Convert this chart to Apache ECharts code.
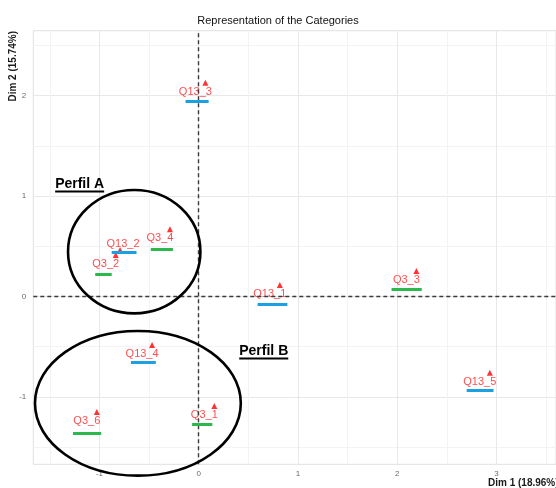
<!DOCTYPE html>
<html lang="en">
<head>
    <meta charset="UTF-8">
    <title>Representation of the Categories</title>
    <style>
        html, body { margin: 0; padding: 0; background: #fff; }
        #container { width: 556px; height: 488px; }
    </style>
</head>
<body>
    <div id="container"></div>
    <script src="https://cdn.jsdelivr.net/npm/echarts@6/dist/echarts.min.js"></script>
    <script>
        // categories and their coordinates on the two dimensions
        var categories = ['Q13_3', 'Q13_2', 'Q3_2', 'Q3_4', 'Q13_1', 'Q3_3', 'Q13_5', 'Q13_4', 'Q3_6', 'Q3_1'];
        var dim1 = [0.067, -0.793, -0.837, -0.29, 0.817, 2.193, 2.933, -0.47, -1.027, 0.157];
        var dim2 = [2.127, 0.463, 0.413, 0.669, 0.114, 0.254, -0.758, -0.483, -1.149, -1.09];

        // hand drawn underlines under each label: start, end, height, group
        var lineStart = [-0.133, -0.877, -1.043, -0.483, 0.593, 1.943, 2.70, -0.683, -1.267, -0.067];
        var lineEnd   = [0.10, -0.627, -0.877, -0.26, 0.893, 2.247, 2.97, -0.433, -0.983, 0.137];
        var lineY     = [1.938, 0.436, 0.217, 0.466, -0.082, 0.072, -0.933, -0.652, -1.361, -1.272];
        var lineGroup = ['Q13', 'Q13', 'Q3', 'Q3', 'Q13', 'Q3', 'Q13', 'Q13', 'Q3', 'Q3'];

        // profile ellipses (center x, center y, radius x, radius y)
        var profiles = ['Perfil A', 'Perfil B'];
        var ellipseCx = [-0.65, -0.613];
        var ellipseCy = [0.446, -1.063];
        var ellipseRx = [0.667, 1.037];
        var ellipseRy = [0.614, 0.72];
        var profileLabelX = [-1.2, 0.655];
        var profileLabelY = [1.12, -0.542];

        var xTicks = [-1, 0, 1, 2, 3];
        var yTicks = [-1, 0, 1, 2];
        var xMinor = [-1.5, -0.5, 0.5, 1.5, 2.5, 3.5];
        var yMinor = [-1.5, -0.5, 0.5, 1.5, 2.5];

        var groupColor = { Q13: '#1ba1e2', Q3: '#2db84d' };

        var ec = echarts.init(document.getElementById('container'));

        var points = categories.map(function (c, i) {
            var item = { name: c, value: [dim1[i], dim2[i]] };
            if (c === 'Q13_2') {
                item.label = { offset: [3, -6] };
            }
            return item;
        });

        var underlines = categories.map(function (c, i) {
            return [
                { coord: [lineStart[i], lineY[i]], lineStyle: { color: groupColor[lineGroup[i]] } },
                { coord: [lineEnd[i], lineY[i]] }
            ];
        });

        var gridGray = '#e8e8e8';
        var minorGray = '#f3f3f3';

        function majorAxis(ticks, extra) {
            return Object.assign({
                type: 'value',
                axisLine: { show: false },
                axisTick: { show: false, customValues: ticks },
                splitLine: { show: true, lineStyle: { color: gridGray, width: 1 } }
            }, extra);
        }

        function minorAxis(ticks, extra) {
            return Object.assign({
                type: 'value',
                axisLine: { show: false },
                axisTick: { show: false, customValues: ticks },
                axisLabel: { show: false, customValues: ticks },
                splitLine: { show: true, lineStyle: { color: minorGray, width: 1 } }
            }, extra);
        }

        var xMin = -1.667, xMax = 3.6, yMin = -1.67, yMax = 2.645;

        var option = {
            backgroundColor: '#fff',
            animation: false,
            title: {
                text: 'Representation of the Categories',
                left: 'center',
                top: 10,
                textStyle: { fontSize: 11, fontWeight: 'normal', color: '#111', fontFamily: 'Liberation Sans' }
            },
            grid: {
                left: 33.3,
                right: -4,
                top: 30.7,
                bottom: 23.7,
                show: true,
                borderColor: '#e0e0e0',
                borderWidth: 1
            },
            xAxis: [
                minorAxis(xMinor, { min: xMin, max: xMax, position: 'top' }),
                majorAxis(xTicks, { min: xMin, max: xMax, position: 'bottom', axisLabel: { customValues: xTicks, color: '#6b6b6b', fontSize: 8, margin: 5, fontFamily: 'Liberation Sans' } })
            ],
            yAxis: [
                minorAxis(yMinor, { min: yMin, max: yMax, position: 'right' }),
                majorAxis(yTicks, { min: yMin, max: yMax, position: 'left', axisLabel: { customValues: yTicks, color: '#6b6b6b', fontSize: 8, margin: 7, fontFamily: 'Liberation Sans' } })
            ],
            series: [
                {
                    type: 'scatter',
                    xAxisIndex: 1,
                    yAxisIndex: 1,
                    data: [],
                    silent: true,
                    markLine: {
                        silent: true,
                        symbol: 'none',
                        label: { show: false },
                        lineStyle: { color: '#3a3a3a', type: [4, 3], width: 1.4 },
                        data: [{ xAxis: 0 }, { yAxis: 0 }]
                    }
                },
                {
                    type: 'scatter',
                    xAxisIndex: 1,
                    yAxisIndex: 1,
                    data: [],
                    silent: true,
                    z: 3,
                    markLine: {
                        silent: true,
                        symbol: 'none',
                        label: { show: false },
                        lineStyle: { width: 3, type: 'solid', opacity: 1 },
                        data: underlines
                    }
                },
                {
                    type: 'scatter',
                    xAxisIndex: 1,
                    yAxisIndex: 1,
                    symbol: 'triangle',
                    symbolSize: 6,
                    z: 4,
                    itemStyle: { color: '#ff0000' },
                    label: {
                        show: true,
                        position: 'inside',
                        offset: [-10, 9],
                        formatter: '{b}',
                        color: '#ff2020',
                        fontSize: 11,
                        fontFamily: 'Liberation Sans'
                    },
                    data: points
                }
            ]
        };

        ec.setOption(option);

        // annotations drawn in pixel space after the axes are laid out
        var measure = document.createElement('canvas').getContext('2d');
        measure.font = 'bold 14px Liberation Sans';
        var graphics = [];

        profiles.forEach(function (p, i) {
            var c = ec.convertToPixel({ xAxisIndex: 1, yAxisIndex: 1 }, [ellipseCx[i], ellipseCy[i]]);
            var e = ec.convertToPixel({ xAxisIndex: 1, yAxisIndex: 1 }, [ellipseCx[i] + ellipseRx[i], ellipseCy[i] + ellipseRy[i]]);
            graphics.push({
                type: 'ellipse',
                shape: { cx: c[0], cy: c[1], rx: Math.abs(e[0] - c[0]), ry: Math.abs(c[1] - e[1]) },
                style: { fill: null, stroke: '#000', lineWidth: 2.6 },
                z: 10
            });
            var t = ec.convertToPixel({ xAxisIndex: 1, yAxisIndex: 1 }, [profileLabelX[i], profileLabelY[i]]);
            var w = measure.measureText(p).width;
            graphics.push({
                type: 'text',
                x: t[0],
                y: t[1],
                style: {
                    text: p,
                    font: 'bold 14px Liberation Sans',
                    fill: '#000',
                    align: 'center',
                    verticalAlign: 'middle'
                },
                z: 10
            });
            graphics.push({
                type: 'line',
                shape: { x1: t[0] - w / 2, y1: t[1] + 7.5, x2: t[0] + w / 2, y2: t[1] + 7.5 },
                style: { stroke: '#000', lineWidth: 2 },
                z: 10
            });
        });

        // axis titles, aligned to the panel ends as in the original
        graphics.push({
            type: 'text',
            x: 13,
            y: 31,
            rotation: Math.PI / 2,
            style: {
                text: 'Dim 2 (15.74%)',
                font: 'bold 10px Liberation Sans',
                fill: '#1a1a1a',
                align: 'right',
                verticalAlign: 'middle'
            }
        });
        graphics.push({
            type: 'text',
            x: 488,
            y: 483,
            style: {
                text: 'Dim 1 (18.96%)',
                font: 'bold 10px Liberation Sans',
                fill: '#1a1a1a',
                align: 'left',
                verticalAlign: 'middle'
            }
        });

        ec.setOption({ graphic: graphics });
    </script>
</body>
</html>
